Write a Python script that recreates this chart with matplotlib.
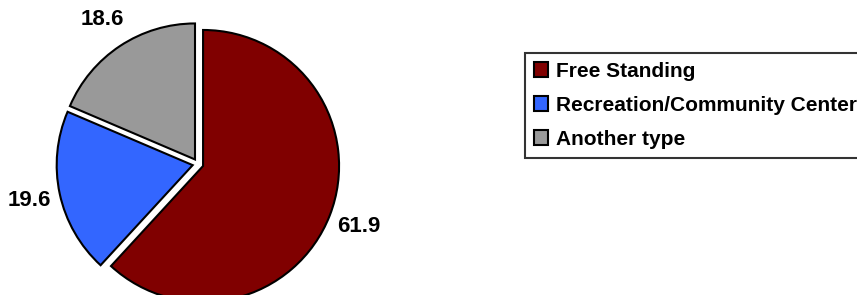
import matplotlib
matplotlib.use("Agg")
import matplotlib.pyplot as plt

plt.rcParams['font.family'] = ['Liberation Sans', 'DejaVu Sans']

# data
categories = ['Free Standing', 'Recreation/Community Center', 'Another type']
values = [61.9, 19.6, 18.6]
colors = ['#800000', '#3366FF', '#999999']

W, H = 857, 295
fig = plt.figure(figsize=(W / 100, H / 100), dpi=100)
ax = fig.add_axes([0, 0, 1, 1])

wedges, texts = ax.pie(
    values,
    labels=[f'{v:.1f}' for v in values],
    colors=colors,
    startangle=90,
    counterclock=False,
    explode=[0.04] * len(values),
    labeldistance=1.23,
    wedgeprops=dict(edgecolor='black', linewidth=1.5),
    textprops=dict(fontsize=16, fontweight='bold', color='black'),
    frame=False,
)
for t in texts:
    t.set_ha('center')
    t.set_va('center')

# place the pie: centre at ~(198, 164) px from top-left, radius ~136 px
R = 136.0
cx, cy = 198.0, H - 164.0
ax.set_xlim(-cx / R, (W - cx) / R)
ax.set_ylim(-cy / R, (H - cy) / R)
ax.set_aspect('auto')
ax.axis('off')

# legend runs off the right edge, as in the original
leg = fig.legend(
    wedges, categories,
    loc='upper left',
    bbox_to_anchor=(525 / W, 1 - 53 / H),
    frameon=True,
    fancybox=False,
    shadow=False,
    prop=dict(size=15, weight='bold'),
    handlelength=0.7,
    handleheight=0.7,
    handletextpad=0.35,
    labelspacing=0.72,
    borderpad=0.42,
    borderaxespad=0,
)
leg.get_frame().set_edgecolor('black')
leg.get_frame().set_linewidth(1.5)
for h in leg.legend_handles:
    h.set_linewidth(1.5)

fig.savefig('out.png', dpi=100)
